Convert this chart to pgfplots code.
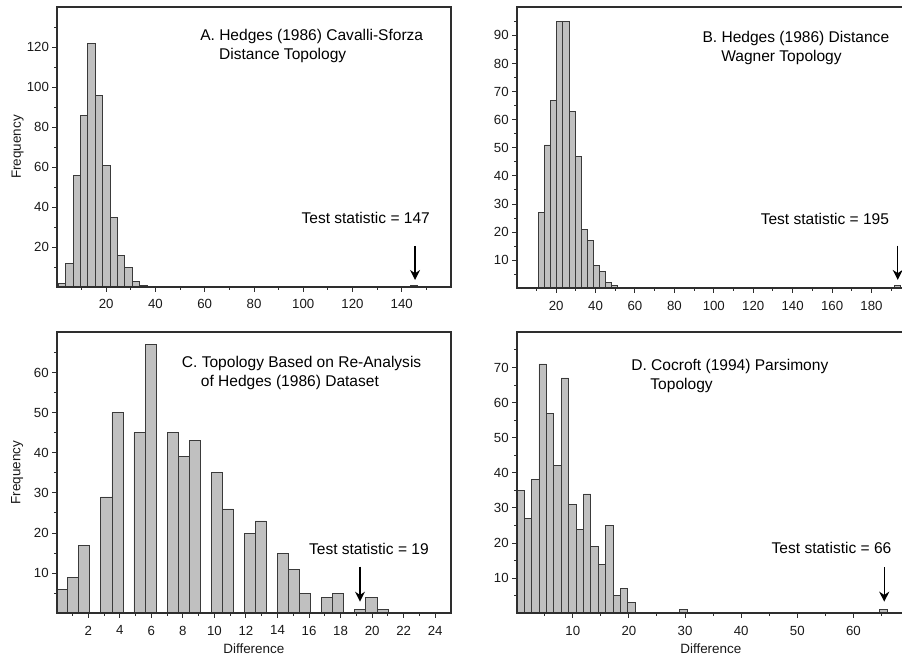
\documentclass[border=0pt]{standalone}
\usepackage{fontspec}
\setmainfont{Liberation Sans}
\usepackage{pgfplots}
\pgfplotsset{compat=1.18}
\usetikzlibrary{arrows.meta}

\definecolor{barfill}{HTML}{C0C0C0}
\definecolor{barline}{HTML}{3A3A3A}
\definecolor{frame}{HTML}{2E2E2E}

\pgfplotsset{
  hist/.style={
    scale only axis, axis on top,
    axis line style={line width=1.9bp, draw=frame},
    tick style={line width=1bp, draw=frame},
    tick align=outside, tick pos=left,
    major tick length=4.5bp, minor tick length=2.5bp,
    xmin=0, ymin=0,
    /pgf/number format/assume math mode=true,
    tick label style={font=\fontsize{13.3}{15}\selectfont, text=black!90},
    xticklabel style={yshift=-4.5bp},
    label style={font=\fontsize{13.5}{15}\selectfont, text=black!90},
    ylabel style={at={(axis description cs:-0.1,0.5)}, anchor=center, rotate=0},
    xlabel style={at={(axis description cs:0.5,-0.127)}, anchor=center},
  },
  bars/.style={ybar, bar shift=0pt, bar width=#1, fill=barfill, draw=barline, line width=0.75bp},
}
\newcommand{\note}{\fontsize{15.6}{17}\selectfont}
\tikzset{arr/.style={-{Stealth[length=10bp,width=10bp]}, line width=1.4bp, black}}

\begin{document}
\begin{tikzpicture}
\useasboundingbox (0,0) rectangle (902bp,-657bp);

% A
\begin{axis}[hist, at={(57bp,-287bp)}, anchor=south west,
  width=394bp, height=280bp, xmax=160, ymax=140,
  xtick={20,40,...,140}, minor xtick={10,30,...,150},
  ytick={20,40,...,120}, minor ytick={10,30,...,130},
  ylabel={Frequency}]
\addplot[bars=3] coordinates {
  (2,2) (5,12) (8,56) (11,86) (14,122) (17,96) (20,61) (23,35)
  (26,16) (29,10) (32,3) (35,1) (145,1)};
\node[anchor=west, inner sep=0pt, font=\note] at (axis cs:58.1,125.5) {A. Hedges (1986) Cavalli-Sforza};
\node[anchor=west, inner sep=0pt, font=\note] at (axis cs:65.8,116) {Distance Topology};
\node[anchor=east, inner sep=0pt, font=\note] at (axis cs:151.5,34.5) {Test statistic = 147};
\draw[arr] (axis cs:145.4,20.6) -- (axis cs:145.4,3.5);
\end{axis}

% B
\begin{axis}[hist, at={(516.7bp,-288.3bp)}, anchor=south west,
  width=388.3bp, height=281bp, xmax=197, ymax=100,
  xtick={20,40,...,180}, minor xtick={10,30,...,190},
  ytick={10,20,...,90}, minor ytick={5,15,...,95}]
\addplot[bars=3.1] coordinates {
  (12.55,27) (15.65,51) (18.75,67) (21.85,95) (24.95,95) (28.05,63)
  (31.15,47) (34.25,21) (37.35,17) (40.45,8) (43.55,6) (46.65,2)
  (49.75,1) (193.2,1)};
\node[anchor=west, inner sep=0pt, font=\note] at (axis cs:94.2,89) {B. Hedges (1986) Distance};
\node[anchor=west, inner sep=0pt, font=\note] at (axis cs:103.7,82.2) {Wagner Topology};
\node[anchor=east, inner sep=0pt, font=\note] at (axis cs:189,24.6) {Test statistic = 195};
\draw[arr] (axis cs:193.3,15.2) -- (axis cs:193.3,3.0);
\end{axis}

% C
\begin{axis}[hist, at={(56.7bp,-613.3bp)}, anchor=south west,
  width=394.3bp, height=281bp, xmax=25, ymax=70,
  xtick={2,4,...,24}, minor xtick={1,3,...,23},
  ytick={10,20,...,60}, minor ytick={5,15,...,65},
  ylabel={Frequency}, xlabel={Difference}]
\addplot[bars=0.7] coordinates {
  (0.35,6) (1.05,9) (1.75,17) (3.15,29) (3.85,50) (5.25,45) (5.95,67)
  (7.35,45) (8.05,39) (8.75,43) (10.15,35) (10.85,26) (12.25,20)
  (12.95,23) (14.35,15) (15.05,11) (15.75,5) (17.15,4) (17.85,5)
  (19.25,1) (19.95,4) (20.65,1)};
\node[anchor=west, inner sep=0pt, font=\note] at (axis cs:7.93,62.3) {C. Topology Based on Re-Analysis};
\node[anchor=west, inner sep=0pt, font=\note] at (axis cs:9.13,57.4) {of Hedges (1986) Dataset};
\node[anchor=east, inner sep=0pt, font=\note] at (axis cs:23.6,16.1) {Test statistic = 19};
\draw[arr] (axis cs:19.23,11.6) -- (axis cs:19.23,2.9);
\end{axis}

% D
\begin{axis}[hist, at={(516.7bp,-613.3bp)}, anchor=south west,
  width=388.3bp, height=281bp, xmax=69.2, ymax=80,
  xtick={10,20,...,60}, minor xtick={5,15,...,65},
  ytick={10,20,...,70}, minor ytick={5,15,...,75},
  xlabel={Difference}]
\addplot[bars=1.32] coordinates {
  (0.66,35) (1.98,27) (3.30,38) (4.62,71) (5.94,57) (7.26,42) (8.58,67)
  (9.90,31) (11.22,24) (12.54,34) (13.86,19) (15.18,14) (16.50,25)
  (17.82,5) (19.14,7) (20.46,3) (29.70,1) (65.34,1)};
\node[anchor=west, inner sep=0pt, font=\note] at (axis cs:20.4,70.2) {D. Cocroft (1994) Parsimony};
\node[anchor=west, inner sep=0pt, font=\note] at (axis cs:23.8,64.8) {Topology};
\node[anchor=east, inner sep=0pt, font=\note] at (axis cs:66.8,18.7) {Test statistic = 66};
\draw[arr] (axis cs:65.5,13.1) -- (axis cs:65.5,3.3);
\end{axis}
\end{tikzpicture}
\end{document}
